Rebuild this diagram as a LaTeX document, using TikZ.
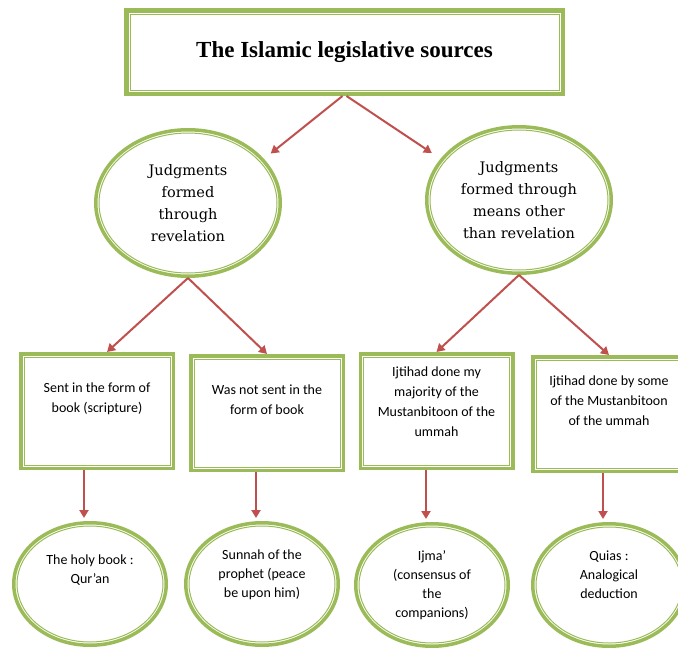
\documentclass[tikz,border=0pt]{standalone}
\usepackage{fontspec}
\setmainfont{DejaVu Serif}
\newfontfamily\titlefont{Liberation Serif}
\newfontfamily\boxfont{Carlito}
\usetikzlibrary{arrows.meta,shapes.geometric}
\definecolor{leafgreen}{RGB}{155,187,89}
\definecolor{arrowred}{RGB}{192,80,77}

\tikzset{
  headbox/.style={draw=leafgreen, line width=4.5pt, fill=white,
    minimum width=436.5pt, minimum height=83.5pt,
    font=\titlefont\bfseries\fontsize{23}{28}\selectfont},
  srcellipse/.style={ellipse, draw=leafgreen, line width=3.5pt, fill=white,
    minimum width=184.5pt, minimum height=146.5pt, inner sep=0pt, align=center,
    font=\fontsize{14.5}{22}\selectfont},
  waybox/.style={draw=leafgreen, line width=3.5pt, fill=white,
    minimum width=152.5pt, minimum height=114.5pt, align=center, text depth=27pt,
    font=\boxfont\fontsize{14}{20}\selectfont},
  leafellipse/.style={ellipse, draw=leafgreen, line width=3.5pt, fill=white,
    minimum width=152.5pt, minimum height=122.5pt, inner sep=0pt, align=center,
    font=\boxfont\fontsize{14}{19}\selectfont},
  inline/.style={draw=leafgreen, line width=1pt},
  arr/.style={draw=arrowred, line width=2pt, -{Triangle[length=8pt,width=9pt]}}
}

\begin{document}
\begin{tikzpicture}[x=1pt,y=-1pt]
\useasboundingbox (0,0) rectangle (678,648);

% top of the tree
\node[headbox] (head) at (344.5,52) {The Islamic legislative sources};

% two kinds of judgments
\node[srcellipse] (rev) at (188,203) {Judgments\\formed\\through\\revelation};
\node[srcellipse] (nonrev) at (519,200) {Judgments\\formed through\\means other\\than revelation};

% the ways
\node[waybox] (book) at (97,411) {Sent in the form of\\book (scripture)};
\node[waybox] (nobook) at (267,413) {Was not sent in the\\form of book};
\node[waybox, text depth=19pt] (majority) at (436.5,411) {Ijtihad done my\\majority of the\\Mustanbitoon of the\\ummah};
\node[waybox] (some) at (609,414) {Ijtihad done by some\\of the Mustanbitoon\\of the ummah};

% the sources
\node[leafellipse, text depth=29pt] (quran) at (90,584) {The holy book :\\Qur’an};
\node[leafellipse, text depth=20pt] (sunnah) at (262,584) {Sunnah of the\\prophet (peace\\be upon him)};
\node[leafellipse] (ijma) at (432,585) {Ijma’\\(consensus of\\the\\companions)};
\node[leafellipse, text depth=20pt] (qiyas) at (609,585) {Quias :\\Analogical\\deduction};

% thin inner lines
\draw[inline] ([shift={(6,6)}]head.north west) rectangle ([shift={(-6,-6)}]head.south east);
\foreach \n in {book,nobook,majority,some}
  \draw[inline] ([shift={(5,5)}]\n.north west) rectangle ([shift={(-5,-5)}]\n.south east);
\foreach \n in {rev,nonrev}
  \draw[inline] (\n.center) ellipse [x radius=89pt, y radius=70pt];
\foreach \n in {quran,sunnah,ijma,qiyas}
  \draw[inline] (\n.center) ellipse [x radius=73pt, y radius=58pt];

% connectors
\draw[arr] ([xshift=-2pt]head.south) -- ([xshift=12pt]rev.35);
\draw[arr] ([xshift=2pt]head.south) -- ([shift={(-11,-3)}]nonrev.150);
\draw[arr] (rev.south) -- ([xshift=10pt]book.north);
\draw[arr] (rev.south) -- (nobook.north);
\draw[arr] (nonrev.south) -- (majority.north);
\draw[arr] (nonrev.south) -- (some.north);
\foreach \b/\e in {book/quran,nobook/sunnah,majority/ijma,some/qiyas}
  \draw[arr, shorten >=3pt] ([xshift=-6pt]\e.north |- \b.south) -- ([xshift=-6pt]\e.north);
\end{tikzpicture}
\end{document}
